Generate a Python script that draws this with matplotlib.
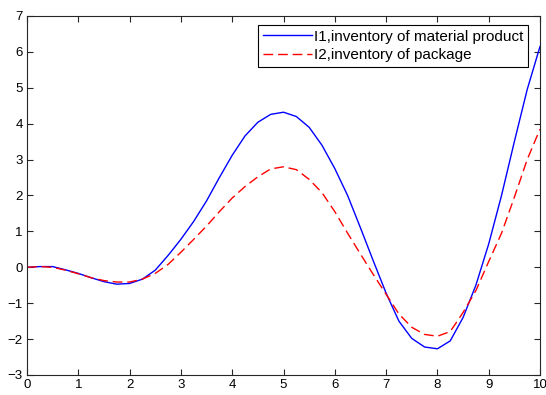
import matplotlib
matplotlib.use('Agg')
import matplotlib.pyplot as plt

# values, step 0.25
t = [0, 0.25, 0.5, 0.75, 1.0, 1.25, 1.5, 1.75, 2.0, 2.25, 2.5, 2.75,
     3.0, 3.25, 3.5, 3.75, 4.0, 4.25, 4.5, 4.75, 5.0, 5.25, 5.5, 5.75,
     6.0, 6.25, 6.5, 6.75, 7.0, 7.25, 7.5, 7.75, 8.0, 8.25, 8.5, 8.75,
     9.0, 9.25, 9.5, 9.75, 10.0]
i1 = [0.0, 0.02, 0.02, -0.07, -0.17, -0.29, -0.40, -0.47, -0.45, -0.33, -0.08, 0.33,
      0.78, 1.28, 1.85, 2.50, 3.12, 3.66, 4.04, 4.26, 4.32, 4.20, 3.90, 3.40,
      2.75, 2.00, 1.10, 0.18, -0.72, -1.50, -1.98, -2.22, -2.27, -2.05, -1.40, -0.50,
      0.65, 2.00, 3.50, 4.95, 6.15]
i2 = [0.0, 0.02, 0.0, -0.08, -0.18, -0.29, -0.37, -0.41, -0.41, -0.33, -0.17, 0.08,
      0.42, 0.78, 1.15, 1.55, 1.93, 2.25, 2.52, 2.74, 2.80, 2.72, 2.45, 2.08,
      1.55, 0.95, 0.37, -0.20, -0.75, -1.30, -1.67, -1.87, -1.92, -1.79, -1.26, -0.65,
      0.16, 0.95, 1.95, 3.00, 3.85]
labels = ['I1,inventory of material product', 'I2,inventory of package']

plt.rcParams['font.family'] = ['Liberation Sans', 'DejaVu Sans']
plt.rcParams['font.size'] = 9.5

fig = plt.figure(figsize=(5.46, 3.95), dpi=100)
ax = fig.add_axes([27 / 546, 1 - 375 / 395, 513 / 546, 359 / 395])

ax.plot(t, i1, color='#0000ff', lw=1.0, label=labels[0])
ax.plot(t, i2, color='#ff0000', lw=1.0, dashes=(7, 3.5), label=labels[1])

ax.set_xlim(0, 10)
ax.set_ylim(-3, 7)
ax.set_xticks(range(0, 11))
ax.set_yticks(range(-3, 8))
ax.tick_params(direction='in', length=4, width=0.8, top=True, right=True,
               colors='#262626', labelcolor='black', pad=3)
for s in ax.spines.values():
    s.set_color('#262626')
    s.set_linewidth(0.8)

leg = ax.legend(loc='upper right', bbox_to_anchor=(0.977, 0.975), borderaxespad=0,
                fancybox=False, framealpha=1, edgecolor='black', fontsize=11,
                handlelength=3.2, handletextpad=0.15, labelspacing=0.3,
                borderpad=0.3)
leg.get_frame().set_linewidth(0.8)

fig.savefig('out.png', dpi=100)
